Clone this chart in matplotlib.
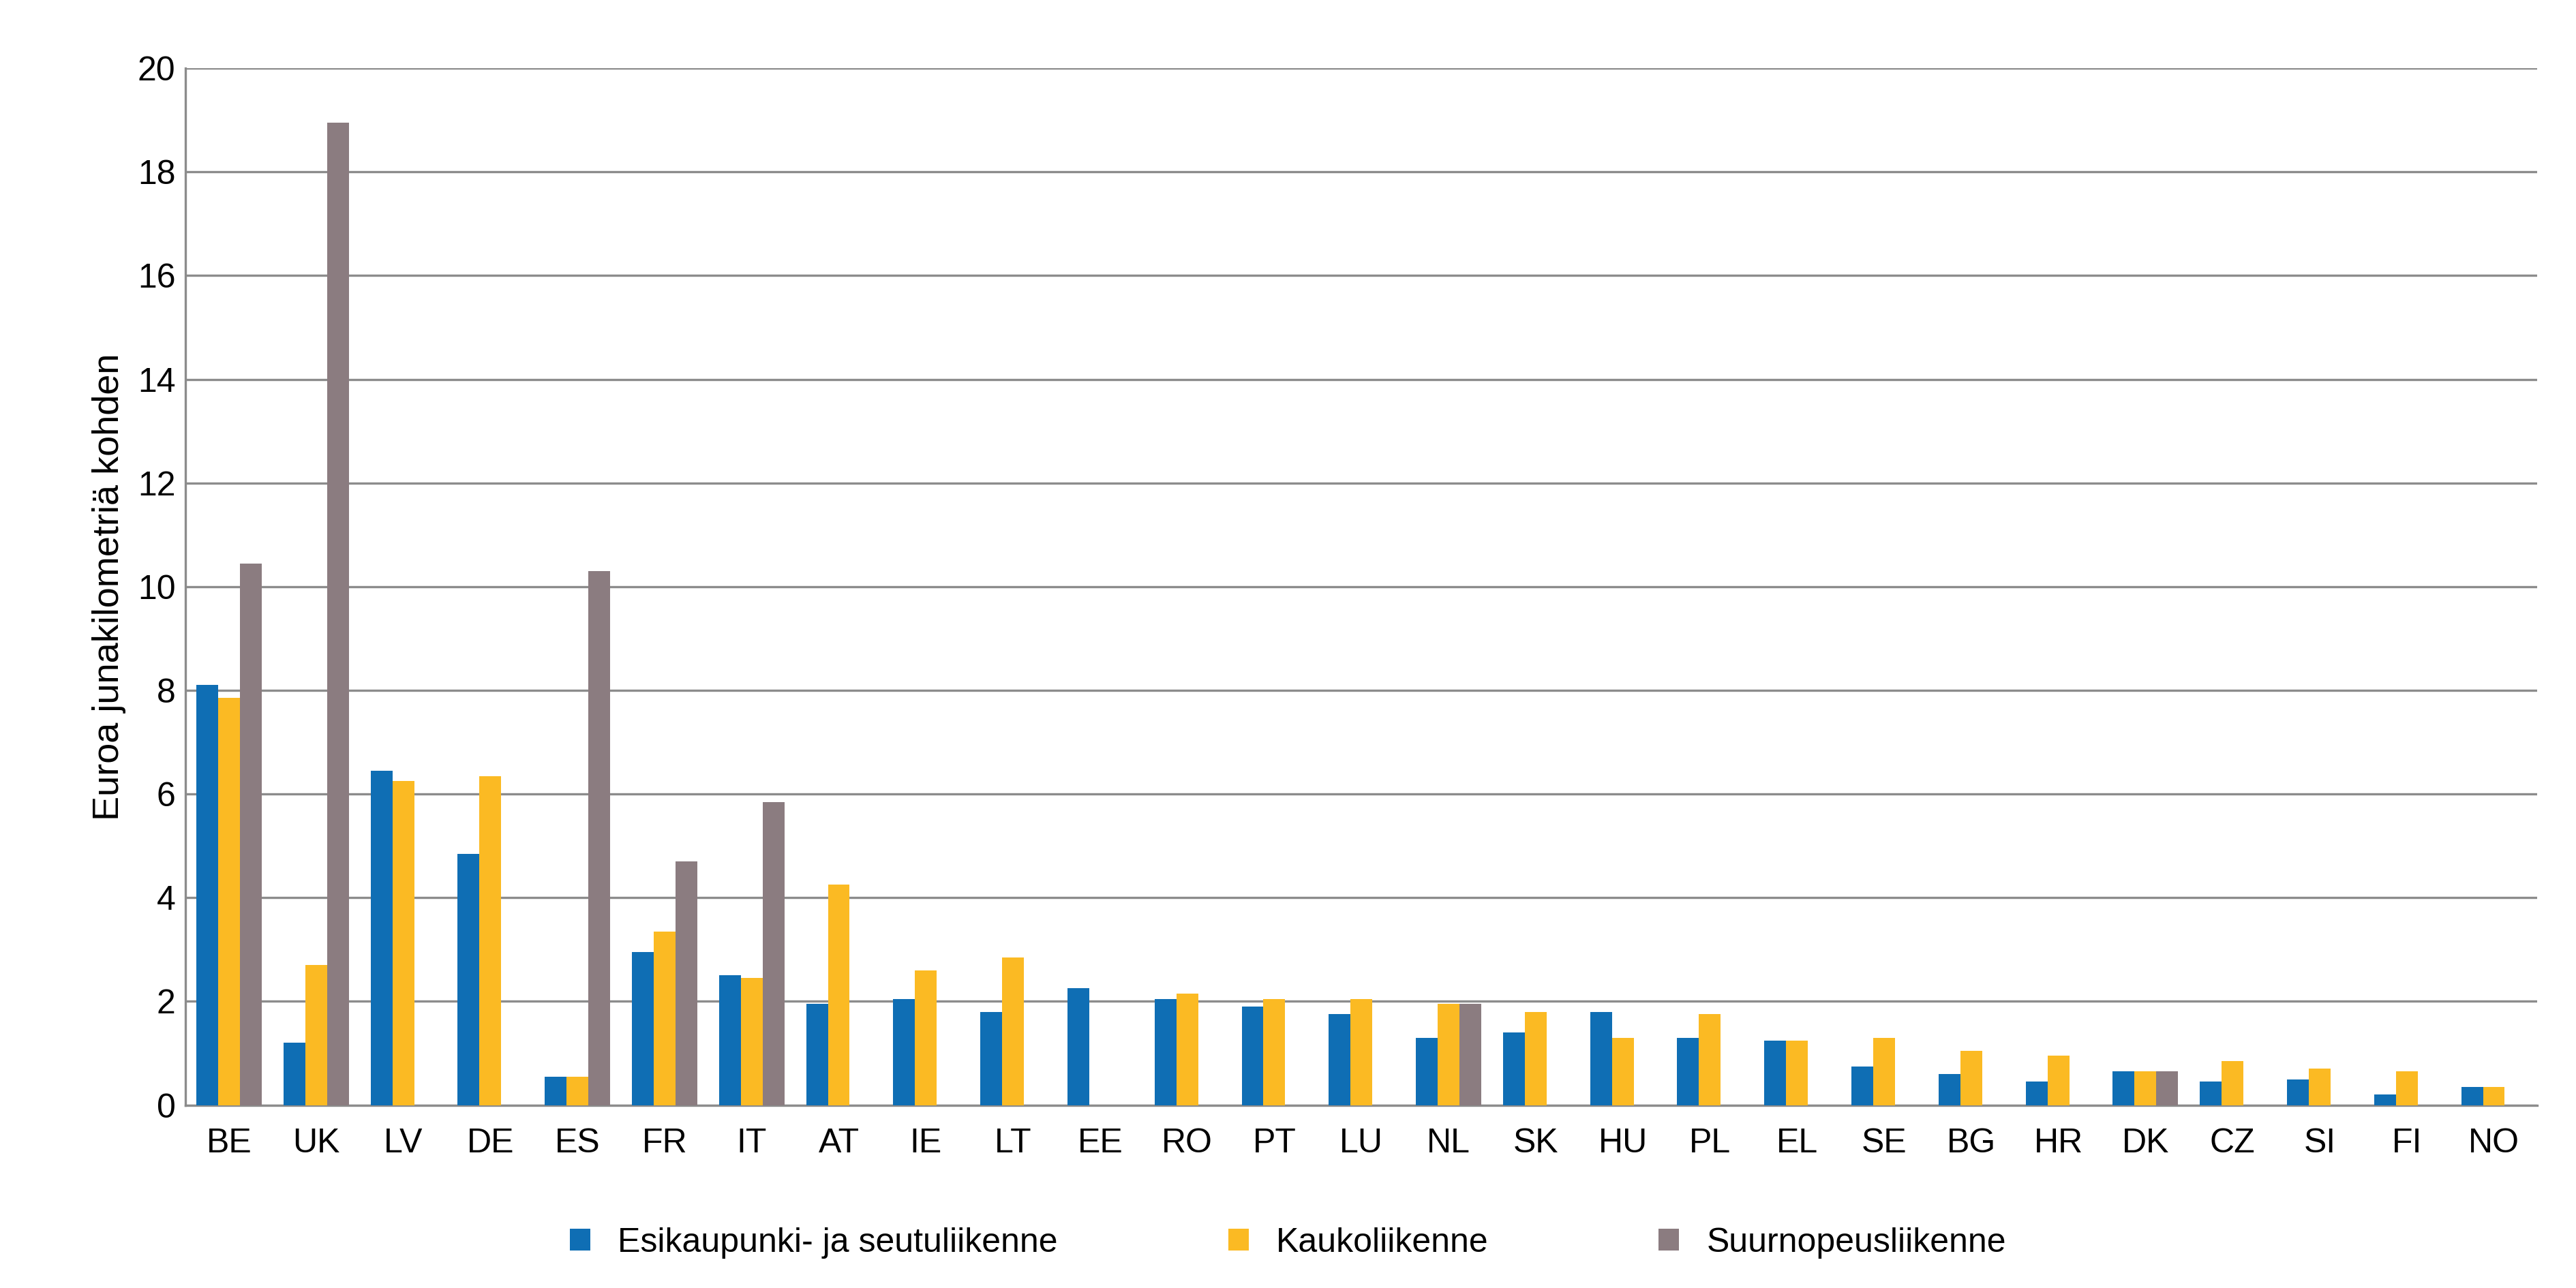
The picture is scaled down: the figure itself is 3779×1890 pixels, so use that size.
import matplotlib
matplotlib.use("Agg")
import matplotlib.pyplot as plt
import numpy as np

countries = ["BE","UK","LV","DE","ES","FR","IT","AT","IE","LT","EE","RO","PT","LU","NL","SK","HU","PL","EL","SE","BG","HR","DK","CZ","SI","FI","NO"]
esikaupunki = [8.1,1.2,6.45,4.85,0.55,2.95,2.5,1.95,2.05,1.8,2.25,2.05,1.9,1.75,1.3,1.4,1.8,1.3,1.25,0.75,0.6,0.45,0.65,0.45,0.5,0.2,0.35]
kauko = [7.85,2.7,6.25,6.35,0.55,3.35,2.45,4.25,2.6,2.85,0,2.15,2.05,2.05,1.95,1.8,1.3,1.75,1.25,1.3,1.05,0.95,0.65,0.85,0.7,0.65,0.35]
suurnopeus = [10.45,18.95,0,0,10.3,4.7,5.85,0,0,0,0,0,0,0,1.95,0,0,0,0,0,0,0,0.65,0,0,0,0]
series_names = ["Esikaupunki- ja seutuliikenne","Kaukoliikenne","Suurnopeusliikenne"]
colors = ["#0F6EB4","#FBBA23","#8B7C80"]

plt.rcParams['font.family'] = ['Liberation Sans','DejaVu Sans']
fig = plt.figure(figsize=(12.597,6.3), dpi=300)
ax = fig.add_axes([0.072,0.142,0.913,0.805])
x = np.arange(len(countries))
w = 0.25
for i,(vals,name,c) in enumerate(zip([esikaupunki,kauko,suurnopeus],series_names,colors)):
    ax.bar(x+(i-1)*w, vals, w, color=c, label=name, zorder=3)
ax.set_xlim(-0.5,len(countries)-0.5)
ax.set_ylim(0,20)
ax.set_yticks(range(0,21,2))
ax.set_xticks(x)
ax.set_xticklabels(countries)
ax.tick_params(labelsize=12, length=0)
ax.tick_params(axis='x', pad=8)
ax.yaxis.grid(True, color="#8C8C8C", linewidth=0.8, zorder=0)
for s in ["top","right"]:
    ax.spines[s].set_visible(False)
for s in ["left","bottom"]:
    ax.spines[s].set_color("#8C8C8C")
ax.set_ylabel("Euroa junakilometriä kohden", fontsize=13)
fig.legend(loc="center", bbox_to_anchor=(0.5,0.035), ncol=3, frameon=False, fontsize=12,
           handlelength=0.6, handleheight=0.6, columnspacing=5)
fig.savefig("out.png", dpi=300)
